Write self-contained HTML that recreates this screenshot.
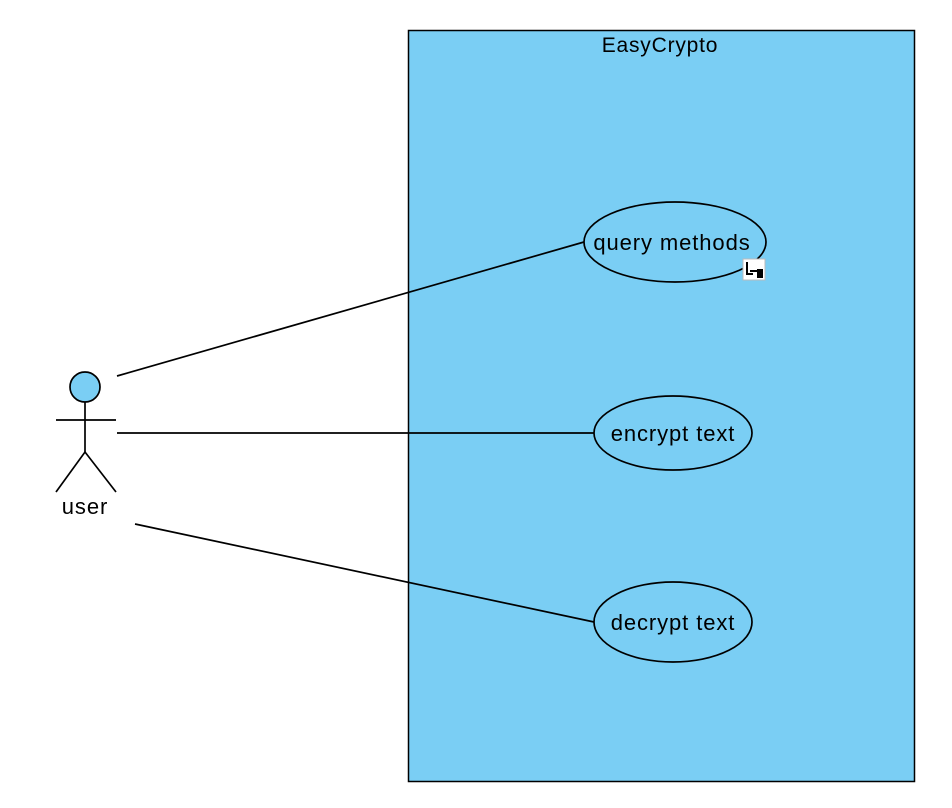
<!DOCTYPE html>
<html><head><meta charset="utf-8"><style>body{margin:0;background:#fff}</style></head><body>
<svg width="952" height="808" viewBox="0 0 952 808" xmlns="http://www.w3.org/2000/svg" style="display:block">
<rect x="408.5" y="30.5" width="506" height="751" fill="#7ACEF4" stroke="#000" stroke-width="1.5"/>
<text x="660" y="52" font-family="Liberation Sans, sans-serif" font-size="21" letter-spacing="0.8" text-anchor="middle">EasyCrypto</text>
<g stroke="#000" stroke-width="1.7" fill="none">
<line x1="117" y1="376" x2="584" y2="242"/>
<line x1="117" y1="433" x2="594" y2="433"/>
<line x1="135" y1="524" x2="594" y2="622"/>
<ellipse cx="675" cy="242" rx="91" ry="40" fill="#7ACEF4"/>
<ellipse cx="673" cy="433" rx="79" ry="37" fill="#7ACEF4"/>
<ellipse cx="673" cy="622" rx="79" ry="40" fill="#7ACEF4"/>
<circle cx="85" cy="387" r="15" fill="#7ACEF4"/>
<line x1="56" y1="420" x2="116" y2="420"/>
<line x1="85" y1="402" x2="85" y2="452"/>
<polyline points="56,492 85,452 116,492"/>
</g>
<rect x="743" y="259" width="22" height="21" fill="#fff" stroke="#bbb"/>
<path d="M747 262 v12 h6 M750 271 h8" stroke="#000" stroke-width="2" fill="none"/>
<rect x="757" y="269" width="6" height="9" fill="#000"/>
<g font-family="Liberation Sans, sans-serif" font-size="22" letter-spacing="0.9" text-anchor="middle">
<text x="672" y="250">query methods</text>
<text x="673" y="441">encrypt text</text>
<text x="673" y="630">decrypt text</text>
<text x="85" y="514">user</text>
</g>
</svg>
</body></html>
